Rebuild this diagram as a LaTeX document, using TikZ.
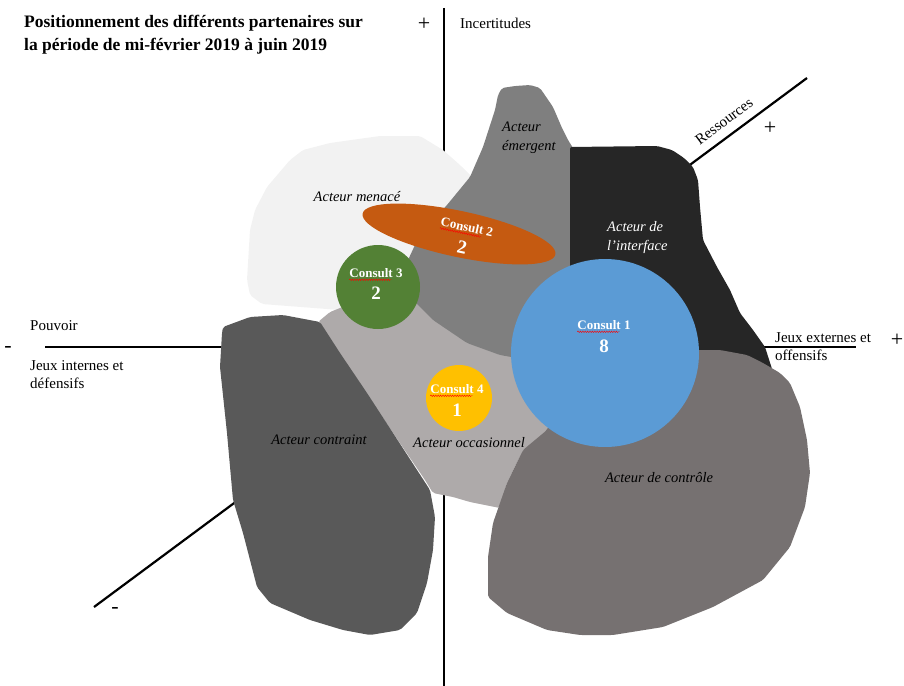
\documentclass[tikz,border=0pt]{standalone}
\usepackage{fontspec}
\setmainfont{Liberation Serif}
\usetikzlibrary{positioning,calc,shapes.geometric,decorations.pathmorphing}

\definecolor{menace}{HTML}{F2F2F2}
\definecolor{emergent}{HTML}{7F7F7F}
\definecolor{interface}{HTML}{262626}
\definecolor{occasion}{HTML}{AEAAAA}
\definecolor{contraint}{HTML}{595959}
\definecolor{controle}{HTML}{767171}
\definecolor{bleu}{HTML}{5B9BD5}
\definecolor{orange}{HTML}{C55A11}
\definecolor{vert}{HTML}{538135}
\definecolor{jaune}{HTML}{FFC000}

\begin{document}
\begin{tikzpicture}[%
        x=1pt, y=-1pt,
        node distance=21pt,
        on grid,
        axe/.style={line width=2.2pt},
        zone/.style={rounded corners=2pt},
        zonelabel/.style={font=\fontsize{14.5}{19}\selectfont\itshape, inner sep=0pt, align=left},
        axetext/.style={font=\fontsize{15}{18}\selectfont, inner sep=0pt, align=left},
        signe/.style={font=\fontsize{22}{22}\selectfont, inner sep=0pt},
        consult/.style={circle, inner sep=0pt, draw=none},
        consulttext/.style={text=white, font=\bfseries\fontsize{13}{15}\selectfont, inner sep=0pt},
        numtext/.style={text=white, font=\bfseries\fontsize{19}{21}\selectfont, inner sep=0pt},
        souligne/.style={red, line width=0.4pt, decorate,
            decoration={snake, segment length=2.4pt, amplitude=0.8pt}}
        ]
        \useasboundingbox (0,0) rectangle (904,685);

        % axes
        \coordinate (haut) at (444,8);
        \coordinate (bas) at (444,686);
        \coordinate (gauche) at (45,347);
        \coordinate (droite) at (856,347);
        \coordinate (diagbas) at (94,607);
        \coordinate (diaghaut) at (807,78);
        \draw[axe] (haut) -- (bas);
        \draw[axe] (gauche) -- (droite);
        \draw[axe] (diagbas) -- (diaghaut);

        % zones
        \fill[zone, menace] (247,280) -- (250,230) -- (255,210) -- (267,187) -- (290,160)
            -- (303,150) -- (330,143) -- (380,136) -- (420,136) -- (443,150) -- (460,165)
            -- (475,180) -- (470,250) -- (400,300) -- (340,310) -- (262,304) -- (250,295) -- cycle;
        \fill[zone, occasion] (318,322) -- (330,312) -- (345,306) -- (380,300) -- (430,300)
            -- (520,340) -- (560,400) -- (547,433) -- (523,450) -- (507,483) -- (500,508)
            -- (470,502) -- (453,497) -- (433,493) -- (425,480) -- (330,340) -- cycle;
        \fill[zone, emergent] (498,95) -- (502,88) -- (515,86) -- (530,85) -- (540,88)
            -- (553,107) -- (562,128) -- (568,140) -- (573,148) -- (573,360) -- (517,358)
            -- (500,355) -- (467,343) -- (433,320) -- (413,300) -- (407,290) -- (408,260)
            -- (415,245) -- (427,227) -- (447,205) -- (470,177) -- (483,147) -- (495,110) -- cycle;
        \fill[zone, interface] (570,147) -- (657,146) -- (672,150) -- (684,158) -- (693,167)
            -- (698,180) -- (700,207) -- (703,240) -- (717,267) -- (730,290) -- (740,313)
            -- (753,330) -- (765,347) -- (773,372) -- (700,360) -- (570,360) -- cycle;
        \fill[zone, contraint] (222,333) -- (223,327) -- (250,317) -- (283,315) -- (320,322)
            -- (340,353) -- (367,393) -- (393,433) -- (430,490) -- (435,517) -- (433,550)
            -- (427,583) -- (417,613) -- (400,630) -- (370,635) -- (343,630) -- (310,620)
            -- (270,603) -- (257,587) -- (243,533) -- (233,500) -- (227,433) -- (220,367) -- cycle;
        \fill[zone, controle] (570,380) -- (560,400) -- (547,430) -- (523,450) -- (507,483)
            -- (493,523) -- (488,557) -- (488,597) -- (507,613) -- (547,630) -- (580,635)
            -- (613,635) -- (663,627) -- (713,607) -- (763,580) -- (790,547) -- (805,507)
            -- (810,473) -- (807,440) -- (800,407) -- (790,383) -- (780,373) -- (763,363)
            -- (747,355) -- (720,350) -- (650,350) -- (600,360) -- cycle;

        % consultants
        \node[consult, fill=bleu, minimum size=188pt] (c1) at (605,353) {};
        \node[ellipse, inner sep=0pt, fill=orange, minimum width=197pt, minimum height=46pt,
            rotate=-12] (c2) at (459,234) {};
        \node[consult, fill=vert, minimum size=84pt] (c3) at (378,287) {};
        \node[consult, fill=jaune, minimum size=66pt] (c4) at (459,398) {};

        \node[consulttext] (t1) at (604,325) {Consult 1};
        \node[numtext] (n1) [below=of t1] {8};
        \node[consulttext, rotate=-12] (t2) at (467,227) {Consult 2};
        \node[numtext, rotate=-12] (n2) at (462,247) {2};
        \node[consulttext] (t3) at (376,273) {Consult 3};
        \node[numtext] (n3) [below=20pt of t3] {2};
        \node[consulttext] (t4) at (457,389) {Consult 4};
        \node[numtext] (n4) [below=of t4] {1};

        \foreach \t in {t1,t2,t3,t4}
            \draw[souligne] ($(\t.south west)+(0,2)$)
                -- ($(\t.south west)!0.79!(\t.south east)+(0,2)$);

        % noms des zones
        \node[zonelabel] (menacelab) at (357,197) {Acteur menacé};
        \node[zonelabel, anchor=west] (emergentlab) at (502,137.5) {Acteur\\émergent};
        \node[zonelabel, anchor=west, text=white] (interfacelab) at (607,237.5) {Acteur de\\l’interface};
        \node[zonelabel] (contraintlab) at (319,440) {Acteur contraint};
        \node[zonelabel] (occasionlab) at (469,443) {Acteur occasionnel};
        \node[zonelabel] (controlelab) at (659,478) {Acteur de contrôle};

        % textes des axes
        \node[font=\bfseries\fontsize{17.5}{23}\selectfont, inner sep=0pt, align=left,
            anchor=west] (titre) at (24,34.5)
            {Positionnement des différents partenaires sur\\la période de mi-février 2019 à juin 2019};
        \node[axetext, anchor=west] (incert) at (460,23) {Incertitudes};
        \node[axetext, anchor=west] (pouvoir) at (30,326) {Pouvoir};
        \node[axetext, anchor=west] (internes) at (30,375) {Jeux internes et\\défensifs};
        \node[axetext, anchor=west] (externes) at (775,347) {Jeux externes et\\offensifs};
        \node[axetext, rotate=36.6] (ressources) at (724,121) {Ressources};
        \node[signe] (plushaut) at (424,24) {+};
        \node[signe] (plusres) at (770,128) {+};
        \node[signe] (plusdroite) at (897,340) {+};
        \node[signe] (moinsgauche) at (8,349) {-};
        \node[signe] (moinsbas) at (115,610) {-};
    \end{tikzpicture}
\end{document}
